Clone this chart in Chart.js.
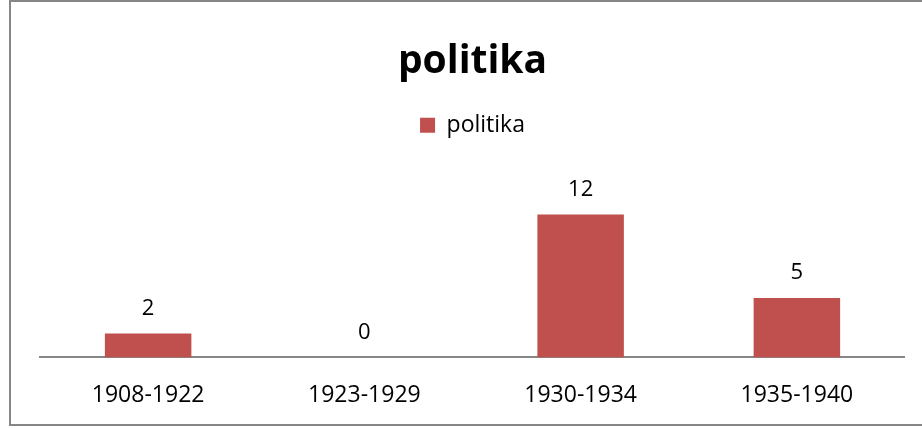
<!DOCTYPE html>
<html>
<head>
<meta charset="utf-8">
<script src="https://cdn.jsdelivr.net/npm/chart.js@4"></script>
<style>
  html, body { margin: 0; padding: 0; background: #fff; overflow: hidden; }
  #wrap { position: relative; width: 922px; height: 428px; overflow: hidden; }
  #frame { position: absolute; left: 9px; top: 0; width: 940px; height: 426px; box-sizing: border-box; border: 2px solid #868686; }
  #chart { position: absolute; left: 0; top: 0; }
</style>
</head>
<body>
<div id="wrap">
  <div id="frame"></div>
  <canvas id="chart" width="905" height="433"></canvas>
</div>
<script>
const periods = ['1908-1922', '1923-1929', '1930-1934', '1935-1940'];
const politika = [2, 0, 12, 5];
const seriesName = 'politika';

// value labels above each bar
const barLabels = {
    id: 'barLabels',
    afterDatasetsDraw(chart) {
        const ctx = chart.ctx;
        ctx.save();
        ctx.font = '22px "Open Sans"';
        ctx.fillStyle = '#000';
        ctx.textAlign = 'center';
        ctx.textBaseline = 'middle';
        chart.getDatasetMeta(0).data.forEach((bar, i) => {
            ctx.fillText(chart.data.datasets[0].data[i], bar.x, bar.y - 25);
        });
        ctx.restore();
    }
};

// empty box between legend and plot area
const spacer = {
    id: 'spacer',
    beforeInit(chart) {
        if (!Chart.layouts) return;
        const box = {
            position: 'top',
            weight: -10,
            fullSize: true,
            options: {},
            top: 0, left: 0, right: 0, bottom: 0, width: 0, height: 0,
            update(maxWidth) { this.width = maxWidth; this.height = 44; },
            isHorizontal() { return true; },
            draw() {}
        };
        Chart.layouts.addBox(chart, box);
    }
};

new Chart(document.getElementById('chart'), {
    type: 'bar',
    data: {
        labels: periods,
        datasets: [{
            label: seriesName,
            data: politika,
            backgroundColor: '#C0504D',
            borderWidth: 0,
            categoryPercentage: 1,
            barPercentage: 0.4
        }]
    },
    options: {
        responsive: false,
        animation: false,
        layout: { padding: { left: 40, right: 0, top: 0, bottom: 0 } },
        plugins: {
            title: {
                display: true,
                text: 'politika',
                color: '#000',
                font: { family: 'Open Sans', size: 39, weight: 'bold' },
                padding: { top: 38, bottom: 19 }
            },
            legend: {
                labels: {
                    color: '#000',
                    boxWidth: 15,
                    boxHeight: 15,
                    font: { family: 'Open Sans', size: 23 }
                }
            },
            tooltip: { enabled: false }
        },
        scales: {
            x: {
                grid: { display: false, drawTicks: false },
                border: { display: true, color: '#868686', width: 2 },
                ticks: { color: '#000', padding: 24, font: { family: 'Open Sans', size: 23 } }
            },
            y: {
                display: false,
                min: 0,
                max: 14
            }
        }
    },
    plugins: [barLabels, spacer]
});
</script>
</body>
</html>
